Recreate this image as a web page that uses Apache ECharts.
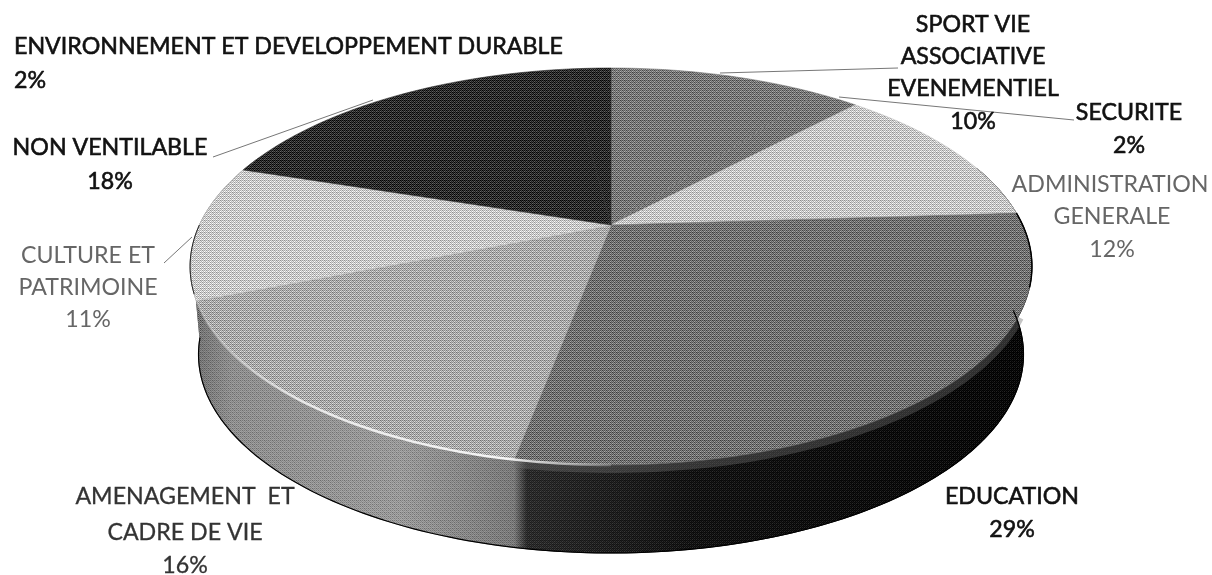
<!DOCTYPE html>
<html>
<head>
<meta charset="utf-8">
<title>Répartition par secteur</title>
<script src="https://cdn.jsdelivr.net/npm/echarts@6/dist/echarts.min.js"></script>
<style>
  html, body { margin: 0; padding: 0; background: #fff; }
  #chart { width: 1212px; height: 575px; }
</style>
</head>
<body>
<div id="chart"></div>
<script>
// valeurs
const categories = ['SPORT VIE ASSOCIATIVE EVENEMENTIEL', 'SECURITE', 'ADMINISTRATION GENERALE', 'EDUCATION',
  'AMENAGEMENT ET CADRE DE VIE', 'CULTURE ET PATRIMOINE', 'NON VENTILABLE', 'ENVIRONNEMENT ET DEVELOPPEMENT DURABLE'];
const values = [10, 2, 12, 29, 16, 11, 18, 2];
const labelLines = [
  ['SPORT VIE', 'ASSOCIATIVE', 'EVENEMENTIEL', '10%'],
  ['SECURITE', '2%'],
  ['ADMINISTRATION', 'GENERALE', '12%'],
  ['EDUCATION', '29%'],
  ['AMENAGEMENT  ET', 'CADRE DE VIE', '16%'],
  ['CULTURE ET', 'PATRIMOINE', '11%'],
  ['NON VENTILABLE', '18%'],
  ['ENVIRONNEMENT ET DEVELOPPEMENT DURABLE', '2%']
];

// couleurs et mise en page
const topGrays = [119, 119, 198, 113, 169, 200, 44, 44];
const labelColors = ['#111', '#111', '#666', '#111', '#333', '#666', '#111', '#111'];
const labelBold = [0.6, 0.6, 0, 0.6, 0.3, 0, 0.6, 0.6];
const labelX = [[973], [1129], [1110, 1112, 1112], [1012], [185], [88], [110], [14]];
const labelY = [[25, 57, 89, 122], [113, 146], [185, 217, 250], [497, 530], [497, 533, 566], [256, 288, 320], [148, 182], [47, 81]];
const labelAlign = ['center', 'center', 'center', 'center', 'center', 'center', 'center', 'left'];
const leaders = [
  [[720, 73], [898, 68]],
  [[839, 97], [1074, 120]],
  [[213, 157], [373, 100]],
  [[164, 263], [192, 237]]
];

// disque vu en perspective
const cx = 611, cy = 225, ax = 411.6, ay = 189.8, persp = -0.209, depth = 88, lowerScale = 0.98;

function project(angle, dy) {
  const X = Math.sin(angle), Y = -Math.cos(angle);
  const w = 1 + persp * Y;
  const sx = dy > 10 ? lowerScale : 1;
  return [cx + sx * ax * X / w, cy + ay * Y / w + (dy || 0)];
}
function arcPoints(a0, a1, dy) {
  const n = Math.max(2, Math.ceil((a1 - a0) / 0.02));
  const pts = [];
  for (let i = 0; i <= n; i++) pts.push(project(a0 + (a1 - a0) * i / n, dy));
  return pts;
}

const total = values.reduce((a, b) => a + b, 0);
const starts = [];
values.reduce((acc, v, i) => { starts[i] = acc; return acc + v; }, 0);
const toAngle = v => v / total * Math.PI * 2;

// trame de scan : motif de Bayer 8x8
const bayer = [
  [0, 32, 8, 40, 2, 34, 10, 42], [48, 16, 56, 24, 50, 18, 58, 26],
  [12, 44, 4, 36, 14, 46, 6, 38], [60, 28, 52, 20, 62, 30, 54, 22],
  [3, 35, 11, 43, 1, 33, 9, 41], [51, 19, 59, 27, 49, 17, 57, 25],
  [15, 47, 7, 39, 13, 45, 5, 37], [63, 31, 55, 23, 61, 29, 53, 21]
];
function ditherTile(gray, amp) {
  const c = document.createElement('canvas');
  c.width = c.height = 8;
  const ctx = c.getContext('2d');
  for (let y = 0; y < 8; y++) {
    for (let x = 0; x < 8; x++) {
      const v = Math.max(0, Math.min(255, Math.round(gray + amp * (bayer[y][x] / 63 - 0.5))));
      ctx.fillStyle = 'rgb(' + v + ',' + v + ',' + v + ')';
      ctx.fillRect(x, y, 1, 1);
    }
  }
  return { image: c, repeat: 'repeat' };
}
function speckleTile() {
  const c = document.createElement('canvas');
  c.width = c.height = 8;
  const ctx = c.getContext('2d');
  for (let y = 0; y < 8; y++) {
    for (let x = 0; x < 8; x++) {
      const b = bayer[y][x] / 63;
      ctx.fillStyle = b > 0.5 ? 'rgba(255,255,255,' + (b - 0.5) * 0.3 + ')' : 'rgba(0,0,0,' + (0.5 - b) * 0.6 + ')';
      ctx.fillRect(x, y, 1, 1);
    }
  }
  return { image: c, repeat: 'repeat' };
}
const topPatterns = topGrays.map(g => ditherTile(g, 120));
const wallSpeckle = speckleTile();

const wallFill = new echarts.graphic.LinearGradient(190, 0, 1032, 0, [
  { offset: 0, color: '#707070' },
  { offset: 0.05, color: '#949494' },
  { offset: 0.25, color: '#a0a0a0' },
  { offset: 0.385, color: '#7c7c7c' },
  { offset: 0.4, color: '#262626' },
  { offset: 0.6, color: '#0c0c0c' },
  { offset: 1, color: '#000000' }
], true);
const rimStroke = new echarts.graphic.LinearGradient(190, 0, 640, 0, [
  { offset: 0, color: 'rgba(255,255,255,0.1)' },
  { offset: 0.25, color: 'rgba(255,255,255,0.75)' },
  { offset: 0.7, color: 'rgba(255,255,255,0.9)' },
  { offset: 1, color: 'rgba(255,255,255,0)' }
], true);

function renderSlice(params, api) {
  const i = params.dataIndex;
  const a0 = toAngle(starts[i]), a1 = toAngle(starts[i] + api.value(0));
  const rim = arcPoints(a0, a1, 0);
  const children = [
    { type: 'polygon', z2: 10, shape: { points: [[cx, cy]].concat(rim) }, style: { fill: topPatterns[i], stroke: 'rgb(' + topGrays[i] + ',' + topGrays[i] + ',' + topGrays[i] + ')', lineWidth: 0.6 } }
  ];
  // seule la partie avant du disque a une tranche visible
  const wa0 = Math.max(a0, 1.25), wa1 = Math.min(a1, 5.1);
  if (wa1 > wa0) {
    const wall = arcPoints(wa0, wa1, 0).concat(arcPoints(wa0, wa1, depth).reverse());
    children.push(
      { type: 'polygon', z2: 1, shape: { points: wall }, style: { fill: wallFill, stroke: wallFill, lineWidth: 1 } },
      { type: 'polygon', z2: 2, shape: { points: wall }, style: { fill: wallSpeckle } }
    );
  }
  labelLines[i].forEach((line, k) => {
    const xs = labelX[i];
    children.push({
      type: 'text', z2: 30,
      style: {
        x: xs[Math.min(k, xs.length - 1)], y: labelY[i][k], text: line,
        fill: labelColors[i], font: '23.2px Lato, "Open Sans", sans-serif',
        stroke: labelColors[i], lineWidth: labelBold[i],
        align: labelAlign[i], verticalAlign: 'middle'
      }
    });
  });
  return { type: 'group', children: children };
}

// bord lumineux et contour, dessinés une seule fois
function renderEdges(params, api) {
  const frontA = toAngle(24) + 0.05, frontB = toAngle(69) + 0.25;
  const children = [
    { type: 'polyline', z2: 5, shape: { points: arcPoints(toAngle(32), toAngle(53), 4) }, style: { fill: 'none', stroke: 'rgba(110,110,110,0.4)', lineWidth: 8 } },
    { type: 'polyline', z2: 20, shape: { points: arcPoints(toAngle(50), toAngle(69) + 0.1, 0) }, style: { fill: 'none', stroke: rimStroke, lineWidth: 2.5 } },
    { type: 'polyline', z2: 21, shape: { points: arcPoints(frontA, frontB, depth) }, style: { fill: 'none', stroke: '#000', lineWidth: 1.2 } },
    { type: 'polyline', z2: 21, shape: { points: arcPoints(toAngle(24), toAngle(30), 0) }, style: { fill: 'none', stroke: '#000', lineWidth: 1.5 } },
    { type: 'polyline', z2: 21, shape: { points: arcPoints(toAngle(69.5), toAngle(75), 0) }, style: { fill: 'none', stroke: '#222', lineWidth: 1 } }
  ];
  leaders.forEach(l => {
    children.push({ type: 'polyline', z2: 25, shape: { points: l }, style: { fill: 'none', stroke: '#777', lineWidth: 1 } });
  });
  return { type: 'group', children: children };
}

const myChart = echarts.init(document.getElementById('chart'));
myChart.setOption({
  backgroundColor: '#fff',
  animation: false,
  series: [
    {
      type: 'custom',
      coordinateSystem: 'none',
      renderItem: renderSlice,
      data: values.map((v, i) => ({ name: categories[i], value: [v] }))
    },
    {
      type: 'custom',
      coordinateSystem: 'none',
      silent: true,
      renderItem: renderEdges,
      data: [[0]]
    }
  ]
});
</script>
</body>
</html>
